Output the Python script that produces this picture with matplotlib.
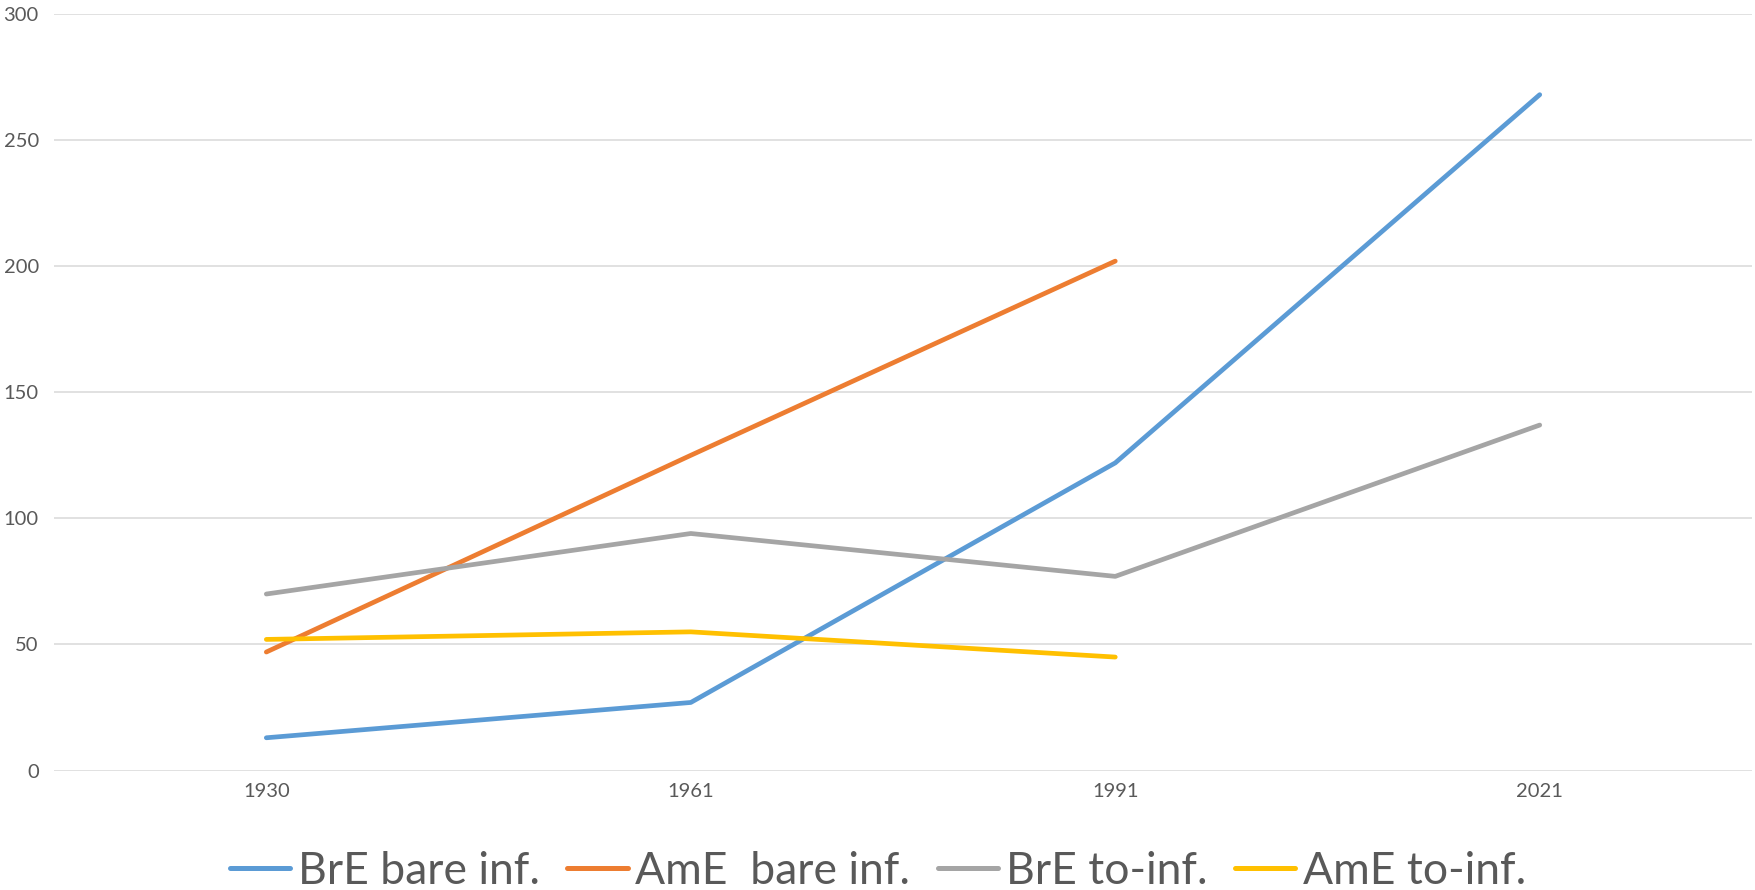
import matplotlib
matplotlib.use("Agg")
import matplotlib.pyplot as plt

years = ["1930", "1961", "1991", "2021"]
bre_bare = [13, 27, 122, 268]
ame_bare = [47, 125, 202]
bre_to = [70, 94, 77, 137]
ame_to = [52, 55, 45]

series = [
    ("BrE bare inf.", bre_bare, "#5B9BD5"),
    ("AmE  bare inf.", ame_bare, "#ED7D31"),
    ("BrE to-inf.", bre_to, "#A5A5A5"),
    ("AmE to-inf.", ame_to, "#FFC000"),
]

plt.rcParams["font.family"] = ["Lato", "DejaVu Sans"]

fig = plt.figure(figsize=(17.56, 8.90), dpi=100)
ax = fig.add_axes([0.0308, 0.1342, 0.9669, 0.8501])

x = list(range(len(years)))
for label, vals, color in series:
    ax.plot(x[:len(vals)], vals, color=color, lw=3.4, label=label,
            solid_capstyle="round", solid_joinstyle="round", zorder=3)

ax.set_xlim(-0.5, len(years) - 0.5)
ax.set_ylim(0, 300)
ax.set_yticks(range(0, 301, 50))
ax.set_xticks(x)
ax.set_xticklabels(years)
ax.grid(axis="y", color="#D9D9D9", lw=1.1, zorder=0)
ax.set_axisbelow(True)
for s in ax.spines.values():
    s.set_visible(False)
ax.tick_params(axis="both", length=0, labelsize=14.5, colors="#595959")
ax.tick_params(axis="y", pad=11)
ax.tick_params(axis="x", pad=9)

leg = fig.legend(loc="center", bbox_to_anchor=(0.5, 1 - 871 / 890), ncol=4,
                 frameon=False, fontsize=32, handlelength=1.36,
                 handletextpad=0.17, columnspacing=0.62, labelcolor="#595959")
for h in leg.get_lines():
    h.set_linewidth(3.6)

fig.savefig("out.png", dpi=100, facecolor="white")
